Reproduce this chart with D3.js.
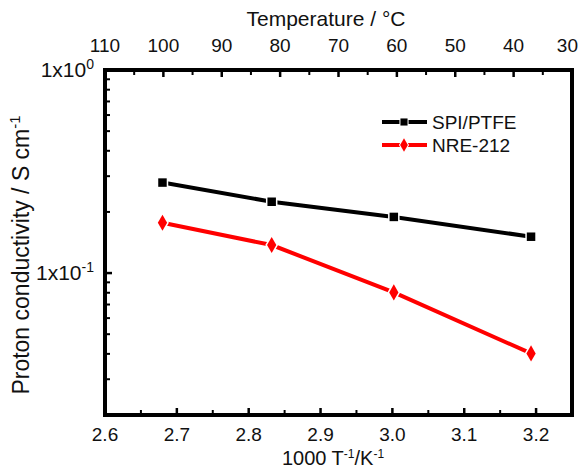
<!DOCTYPE html>
<html><head><meta charset="utf-8">
<script src="https://cdn.jsdelivr.net/npm/d3@7/dist/d3.min.js"></script>
<style>
html,body{margin:0;padding:0;background:#fff;}
svg text{font-family:"Liberation Sans",Arial,Helvetica,sans-serif;fill:#111;}
</style></head>
<body><svg id="c" width="579" height="470"></svg>
<script>
// ---- data ----
const invT = [2.680, 2.832, 3.002, 3.193];           // 1000/T (K^-1)
const spiPtfe = [0.279, 0.2245, 0.189, 0.151];       // S cm^-1
const nre212 = [0.177, 0.1374, 0.0803, 0.0402];      // S cm^-1
const seriesNames = ["SPI/PTFE", "NRE-212"];
const xTicks = [2.6, 2.7, 2.8, 2.9, 3.0, 3.1, 3.2];
const topTicks = [110, 100, 90, 80, 70, 60, 50, 40, 30];
const yTickLabels = [{v: 1, e: "0"}, {v: 0.1, e: "-1"}];

const svg = d3.select("#c");
const L = 105, R = 572, T = 70, B = 415;
const x = d3.scaleLinear().domain([2.6, 3.25]).range([L, R]);
const xTop = d3.scaleLinear().domain([110, 30]).range([L, R]);
const y = d3.scaleLog().domain([0.02, 1]).range([B, T]);

const g = svg.append("g");
// bottom ticks every 0.05 (inward)
d3.range(2.65, 3.249, 0.05).forEach(v => {
  const major = Math.abs(Math.round(v*10) - v*10) < 1e-6;
  g.append("line").attr("x1", x(v)).attr("x2", x(v)).attr("y1", B).attr("y2", B - (major ? 7 : 5))
    .attr("stroke", "#000").attr("stroke-width", major ? 2.5 : 2);
});
// top ticks every 5 deg
d3.range(105, 30, -5).forEach(v => {
  const major = v % 10 === 0;
  g.append("line").attr("x1", xTop(v)).attr("x2", xTop(v)).attr("y1", T).attr("y2", T + (major ? 7 : 5))
    .attr("stroke", "#000").attr("stroke-width", major ? 2.5 : 2);
});
// left log ticks
const yt = [];
[0.01, 0.1].forEach(d => { for (let k = 1; k <= 9; k++) { const v = d * k; if (v >= 0.02 && v < 1) yt.push(v); } });
yt.forEach(v => {
  const major = Math.abs(v - 0.1) < 1e-9;
  g.append("line").attr("x1", L).attr("x2", L + (major ? 7 : 5)).attr("y1", y(v)).attr("y2", y(v))
    .attr("stroke", "#000").attr("stroke-width", major ? 2.5 : 2);
});

// frame
svg.append("rect").attr("x", L).attr("y", T).attr("width", R - L).attr("height", B - T)
  .attr("fill", "none").attr("stroke", "#000").attr("stroke-width", 4);

// tick labels
xTicks.forEach(v => svg.append("text").attr("x", x(v)).attr("y", 441).attr("text-anchor", "middle")
  .attr("font-size", 19).text(v.toFixed(1)));
topTicks.forEach(v => {
  const last = v === 30;
  svg.append("text").attr("x", last ? 578 : xTop(v)).attr("y", 52)
    .attr("text-anchor", last ? "end" : "middle").attr("font-size", 19).text(v);
});
yTickLabels.forEach(t => {
  const tx = svg.append("text").attr("x", 94).attr("y", y(t.v) + 7).attr("text-anchor", "end").attr("font-size", 21);
  tx.append("tspan").text("1x10");
  tx.append("tspan").attr("dy", -8).attr("font-size", 14).text(t.e);
});

// axis titles
const xt = svg.append("text").attr("x", 333).attr("y", 465).attr("text-anchor", "middle").attr("font-size", 20);
xt.append("tspan").text("1000 T");
xt.append("tspan").attr("dy", -7).attr("font-size", 12).text("-1");
xt.append("tspan").attr("dy", 7).text("/K");
xt.append("tspan").attr("dy", -7).attr("font-size", 12).text("-1");
svg.append("text").attr("x", 326).attr("y", 26).attr("text-anchor", "middle").attr("font-size", 21).text("Temperature / °C");
const yl = svg.append("text").attr("transform", "translate(29,255) rotate(-90)").attr("text-anchor", "middle").attr("font-size", 23);
yl.append("tspan").text("Proton conductivity / S cm");
yl.append("tspan").attr("dy", -9).attr("font-size", 15).text("-1");

// series
const series = [
  {name: seriesNames[0], vals: spiPtfe, color: "#000", sym: d3.symbolSquare, size: 72},
  {name: seriesNames[1], vals: nre212, color: "#ff0000", sym: d3.symbolDiamond, size: 75}
];
const line = d3.line().x(d => x(d[0])).y(d => y(d[1]));
series.forEach(s => {
  const pts = invT.map((v, i) => [v, s.vals[i]]);
  svg.append("path").attr("d", line(pts)).attr("fill", "none").attr("stroke", s.color).attr("stroke-width", 4);
  svg.selectAll(null).data(pts).enter().append("path")
    .attr("d", d3.symbol().type(s.sym).size(s.size))
    .attr("transform", d => `translate(${x(d[0])},${y(d[1])})`)
    .attr("fill", s.color).attr("stroke", "#fff").attr("stroke-width", 3).attr("paint-order", "stroke");
});

// legend
series.forEach((s, i) => {
  const ly = 122 + i * 23;
  svg.append("line").attr("x1", 382).attr("x2", 427).attr("y1", ly).attr("y2", ly).attr("stroke", s.color).attr("stroke-width", 4);
  svg.append("path").attr("d", d3.symbol().type(s.sym).size(s.size * 0.7)).attr("transform", `translate(404,${ly})`)
    .attr("fill", s.color).attr("stroke", "#fff").attr("stroke-width", 2).attr("paint-order", "stroke");
  svg.append("text").attr("x", 432).attr("y", ly + 7).attr("font-size", 19).text(s.name);
});
</script></body></html>
